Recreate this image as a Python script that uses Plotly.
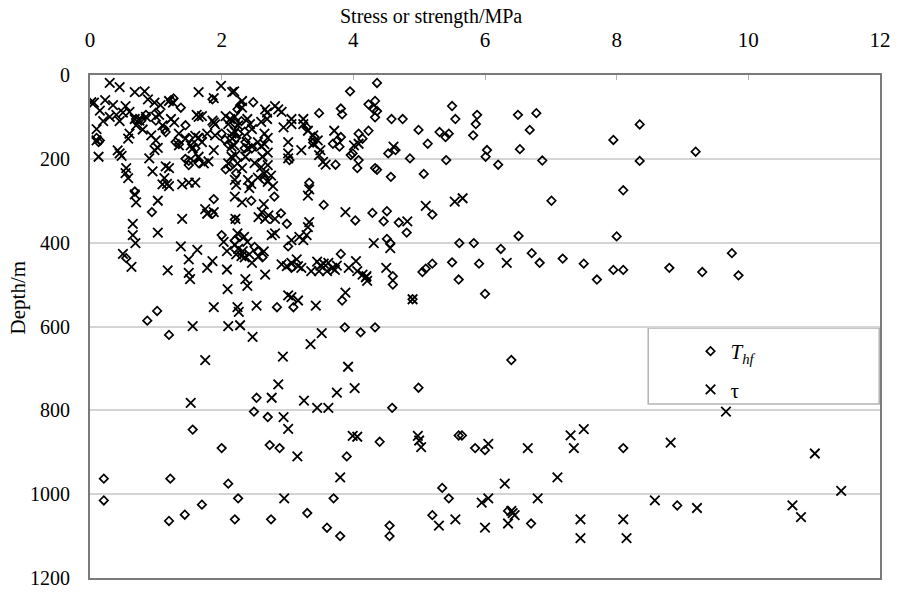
import plotly.graph_objects as go

# Hydraulic-fracturing tensile strength T_hf: stress (MPa) and depth (m)
thf_stress = [
    0.15, 0.10, 0.13, 0.68, 0.78, 1.00, 1.00, 1.23, 1.27, 1.38, 1.13, 1.15, 1.86,
    1.45, 1.50, 1.55, 1.60, 1.70, 1.45, 1.50, 1.60, 1.65, 1.50, 1.30, 1.35, 2.00,
    2.05, 2.10, 2.13, 2.06, 0.94, 0.55, 0.87, 1.02, 2.00, 1.88, 1.86, 1.20, 0.70,
    0.85,
    2.48, 2.28, 2.24, 3.48, 3.81, 3.83, 4.23, 4.33, 4.31, 4.33, 2.20, 2.30, 2.35,
    2.25, 2.22, 2.38, 2.36, 2.35, 3.29, 3.41, 3.39, 3.69, 3.76, 3.79, 3.81, 4.08,
    4.14, 4.23, 3.96, 3.99, 4.08, 4.06, 3.73, 4.33, 3.03, 3.33, 2.22, 2.46, 3.95,
    4.36, 3.55, 4.03, 4.29, 2.99, 3.81, 2.20, 2.28, 2.20, 2.50, 2.55, 2.62, 3.01,
    3.06, 2.84, 3.09, 3.83, 3.87, 4.11, 4.33, 2.65, 2.80, 2.90, 2.45,
    4.36, 4.58, 4.75, 4.99, 5.13, 5.31, 5.40, 5.45, 5.50, 5.55, 5.82, 5.86, 5.88,
    6.03, 6.01, 6.20, 6.50, 6.68, 6.78, 6.53, 6.87, 4.53, 4.64, 4.86, 5.41, 4.36,
    4.57, 5.07, 7.01, 5.20, 4.51, 4.46, 4.69, 4.81, 4.51, 4.56, 5.61, 5.83, 6.24,
    6.51, 6.71, 7.18, 6.83, 5.20, 5.50, 5.91, 5.05, 5.10, 5.60, 6.00, 4.60, 4.60,
    4.90,
    7.95, 8.35, 8.35, 9.20, 8.10, 8.00, 7.95, 8.10, 7.50, 7.70, 8.80, 9.30, 9.75,
    9.85, 6.40,
    0.21, 0.21, 1.22, 1.20, 1.44, 1.56, 1.70, 2.00, 2.10, 2.25, 2.20, 2.53, 2.49,
    2.70, 2.73, 2.88, 2.75, 3.30, 3.60, 3.80, 3.70, 3.90, 4.40, 4.59, 4.99, 4.55,
    4.55, 5.20, 5.45, 5.35, 5.60, 5.65, 5.85, 6.00, 6.35, 6.70, 8.10, 8.92,
]
thf_depth = [
    156, 150, 160, 278, 109, 109, 90, 60, 56, 78, 129, 136, 58,
    120, 150, 165, 175, 150, 200, 205, 200, 210, 215, 160, 165, 140,
    155, 165, 218, 225, 327, 437, 586, 563, 382, 296, 331, 620, 105,
    95,
    65, 72, 82, 91, 80, 94, 70, 62, 82, 101, 115, 110, 135,
    140, 150, 150, 160, 175, 125, 148, 161, 164, 156, 171, 148, 140,
    152, 133, 191, 187, 203, 222, 214, 222, 203, 257, 234, 175, 39,
    19, 310, 347, 329, 355, 427, 345, 385, 395, 410, 420, 435, 409,
    460, 554, 554, 538, 602, 614, 602, 250, 290, 330, 300,
    86, 105, 105, 131, 164, 136, 148, 140, 74, 105, 144, 117, 95,
    179, 195, 214, 95, 131, 91, 177, 204, 187, 179, 199, 203, 226,
    243, 236, 300, 333, 325, 349, 352, 376, 391, 401, 401, 401, 415,
    384, 425, 438, 448, 450, 447, 450, 470, 462, 488, 522, 480, 500,
    535,
    155, 118, 205, 183, 275, 385, 465, 465, 450, 488, 460, 470, 425,
    478, 680,
    963, 1015, 963, 1064, 1049, 846, 1025, 890, 975, 1010, 1060, 770, 803,
    816, 883, 890, 1060, 1045, 1080, 1100, 1010, 910, 875, 794, 746, 1075,
    1100, 1050, 1010, 985, 860, 860, 890, 895, 1040, 1070, 890, 1027,
]

# Shear stress tau: stress (MPa) and depth (m)
tau_stress = [
    0.30, 0.45, 0.68, 0.83, 0.06, 0.23, 0.35, 0.54, 0.50, 0.60, 0.88, 0.98, 1.07,
    1.20, 1.26, 0.68, 0.75, 1.65, 1.88, 1.99, 2.16, 1.65, 1.70, 1.62, 1.88, 1.90,
    0.10, 0.10, 0.13, 0.45, 0.48, 0.42, 0.55, 0.54, 0.58, 0.60, 0.58, 0.93, 1.00,
    0.98, 1.03, 0.90, 0.95, 1.13, 1.15, 1.20, 1.17, 1.20, 1.40, 1.50, 1.60, 1.23,
    1.28, 1.35, 1.45, 1.53, 1.56, 1.65, 1.73, 1.80, 1.88, 1.35, 1.60, 1.65, 1.70,
    1.78, 1.90, 2.10, 2.15, 2.15, 2.06, 2.13, 2.15, 2.10, 1.86, 1.10, 0.40, 0.45,
    0.30, 0.70, 0.80, 0.85, 1.05, 1.10, 0.20, 0.15, 0.02,
    0.68, 0.70, 1.03, 0.65, 0.65, 0.69, 1.03, 1.40, 0.50, 0.63, 1.18, 1.38, 1.63,
    1.50, 1.50, 1.52, 1.78, 1.86, 2.08, 2.09, 1.88, 1.56, 2.10, 1.75, 1.78, 1.88,
    2.03, 2.08, 1.75, 1.53,
    2.19, 2.31, 2.31, 2.66, 2.69, 2.81, 2.86, 2.91, 2.20, 2.25, 2.20, 2.39, 2.43,
    2.46, 2.60, 2.69, 2.65, 2.70, 2.65, 2.60, 2.70, 2.62, 2.55, 2.94, 3.06, 3.06,
    3.24, 3.24, 3.31, 3.39, 3.46, 3.39, 3.01, 3.21, 3.01, 3.50, 3.48, 3.54, 3.58,
    3.71, 4.01, 4.08, 2.16, 2.19, 2.21, 2.24, 2.31, 2.36, 2.39, 2.46, 2.50, 2.60,
    2.70, 2.75, 2.55, 2.65, 2.40, 2.45, 2.42, 2.20, 2.22, 2.20, 3.33, 3.31, 2.70,
    2.78, 3.01,
    2.31, 2.64, 2.61, 2.56, 2.66, 2.71, 2.81, 2.21, 2.24, 2.34, 2.39, 2.76, 2.81,
    3.33, 3.31, 3.29, 3.18, 3.24, 3.06, 3.88, 4.31, 2.20, 2.25, 2.32, 2.22, 2.30,
    2.35, 2.42, 2.46, 2.56, 2.64, 2.66, 2.36, 2.39, 2.91, 2.99, 3.06, 3.14, 3.16,
    3.21, 3.36, 3.45, 3.50, 3.55, 3.62, 3.68, 3.72, 3.75, 3.60, 3.48, 3.93, 4.04,
    4.06, 4.14, 4.19, 4.21, 3.88, 3.01, 3.06, 3.16, 2.53, 3.43, 2.24, 2.26, 2.28,
    2.47, 2.93, 3.35, 3.52, 2.86, 2.76, 3.25, 3.45, 3.62, 3.75, 3.92, 4.02, 2.94,
    3.01, 3.99, 4.06, 4.98, 5.00, 5.03, 3.15, 2.95, 3.80,
    4.61, 5.10, 5.54, 5.66, 4.82, 4.56, 6.33, 4.50, 4.90, 4.20,
    5.55, 5.30, 5.95, 6.00, 6.05, 6.05, 6.30, 6.35, 6.45, 6.40, 6.42, 6.65, 6.80,
    7.10, 7.30, 7.35, 7.50, 7.45, 7.45, 8.10, 8.15, 8.58, 8.82, 9.22, 9.66, 10.67,
    10.80, 11.01, 11.41,
]
tau_depth = [
    19, 29, 41, 39, 66, 60, 72, 74, 90, 88, 58, 66, 72,
    62, 66, 105, 109, 41, 55, 26, 41, 100, 98, 95, 113, 118,
    129, 156, 195, 187, 193, 180, 222, 234, 246, 140, 152, 144, 156,
    179, 174, 199, 230, 246, 218, 222, 260, 265, 261, 257, 257, 105,
    113, 140, 152, 168, 175, 195, 211, 206, 179, 168, 145, 150, 160,
    140, 144, 117, 140, 171, 98, 105, 195, 211, 109, 261, 95, 110,
    100, 120, 130, 100, 95, 120, 110, 85, 65,
    285, 304, 300, 355, 382, 401, 376, 343, 427, 458, 466, 409, 417,
    440, 472, 487, 460, 444, 464, 511, 554, 599, 599, 320, 331, 327,
    398, 420, 680, 782,
    39, 62, 78, 82, 90, 74, 82, 88, 100, 120, 135, 105, 117,
    129, 112, 105, 140, 150, 165, 170, 185, 195, 160, 125, 105, 117,
    105, 117, 133, 144, 156, 164, 160, 179, 187, 179, 191, 207, 214,
    133, 168, 164, 152, 168, 191, 211, 222, 195, 175, 171, 210, 220,
    215, 240, 245, 235, 250, 260, 270, 250, 262, 290, 273, 288, 255,
    265, 199,
    304, 308, 327, 339, 343, 335, 343, 343, 378, 386, 398, 382, 378,
    351, 363, 382, 386, 394, 394, 327, 401, 405, 415, 420, 428, 432,
    435, 428, 448, 433, 421, 476, 487, 503, 452, 456, 448, 440, 456,
    460, 468, 445, 455, 450, 448, 460, 465, 455, 468, 468, 460, 444,
    468, 476, 483, 491, 519, 526, 530, 538, 550, 550, 554, 565, 597,
    625, 672, 642, 616, 738, 770, 777, 794, 794, 758, 696, 747, 816,
    844, 861, 863, 861, 872, 888, 910, 1010, 960,
    171, 312, 302, 294, 349, 413, 448, 460, 535, 480,
    1060, 1075, 1020, 1080, 1010, 880, 975, 1070, 1050, 1040, 1045, 890, 1010,
    960, 860, 890, 845, 1060, 1105, 1060, 1105, 1015, 877, 1033, 803, 1027,
    1055, 903, 992,
]

x_ticks = [0, 2, 4, 6, 8, 10, 12]
y_ticks = [0, 200, 400, 600, 800, 1000, 1200]

SERIF = "Liberation Serif, Times New Roman, serif"

fig = go.Figure()
fig.add_trace(go.Scatter(
    x=thf_stress, y=thf_depth, mode="markers",
    name="<i>T</i><sub><i>hf</i></sub>", legendgroup="thf",
    marker=dict(symbol="diamond-open", size=6.5, color="black",
                line=dict(width=1.7, color="black")),
))
fig.add_trace(go.Scatter(
    x=tau_stress, y=tau_depth, mode="markers",
    name="τ", legendgroup="tau",
    marker=dict(symbol="x-thin-open", size=9.5, color="black",
                line=dict(width=1.8, color="black")),
))

fig.update_layout(
    width=901, height=599,
    margin=dict(l=90, r=10, t=75, b=11),
    paper_bgcolor="white", plot_bgcolor="white",
    font=dict(family=SERIF, size=21, color="black"),
    showlegend=True,
    xaxis=dict(
        side="top", range=[0, 12], tickvals=x_ticks,
        ticks="inside", ticklen=5, tickwidth=1, tickcolor="#b0b0b0",
        showgrid=False, zeroline=False,
        showline=True, linecolor="#7a7a7a", linewidth=2, mirror=True,
        ticklabelstandoff=18,
        tickfont=dict(family=SERIF, size=21),
    ),
    yaxis=dict(
        range=[1200, 0], tickvals=y_ticks, ticks="",
        showgrid=True, gridcolor="#d4d4d4", gridwidth=1.5, zeroline=False,
        showline=True, linecolor="#7a7a7a", linewidth=2, mirror=True,
        ticklabelstandoff=14,
        tickfont=dict(family=SERIF, size=20),
    ),
    legend=dict(
        x=0.707, y=0.491, xanchor="left", yanchor="top",
        bgcolor="rgba(0,0,0,0)", borderwidth=0,
        traceorder="grouped", tracegroupgap=8, indentation=42,
        font=dict(family=SERIF, size=21),
    ),
    shapes=[dict(
        type="rect", xref="paper", yref="paper",
        x0=0.7066, x1=0.999, y0=0.346, y1=0.497,
        line=dict(color="#b4b4b4", width=1.5), layer="below",
    )],
    annotations=[
        dict(text="Stress or strength/MPa", xref="paper", yref="paper",
             x=0.432, y=1.116, xanchor="center", yanchor="middle",
             showarrow=False, font=dict(family=SERIF, size=20)),
        dict(text="Depth/m", xref="paper", yref="paper",
             x=-0.091, y=0.558, xanchor="center", yanchor="middle",
             textangle=-90, showarrow=False, font=dict(family=SERIF, size=21)),
    ],
)

fig.write_html("out.html")
